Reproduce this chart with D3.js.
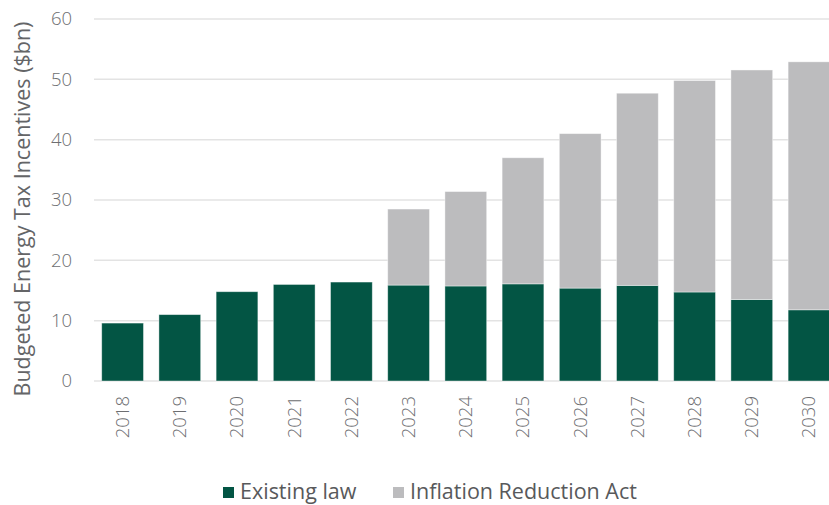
<!DOCTYPE html>
<html>
<head>
<meta charset="utf-8">
<script src="https://cdn.jsdelivr.net/npm/d3@7"></script>
<style>
  body { margin: 0; background: #fff; }
  text { font-family: "Open Sans", "Noto Sans", sans-serif; font-weight: 300; fill: #6d6e71; }
</style>
</head>
<body>
<div id="svgcontainer"></div>
<script>
let width = 829;
let height = 505;
let margins = { top: 19, right: 0, bottom: 124, left: 94 };

// chart data
let years = ["2018", "2019", "2020", "2021", "2022", "2023", "2024", "2025", "2026", "2027", "2028", "2029", "2030"];
let existingLaw = [9.6, 11.0, 14.8, 16.0, 16.4, 15.9, 15.75, 16.1, 15.4, 15.85, 14.75, 13.5, 11.8];
let inflationAct = [0, 0, 0, 0, 0, 12.6, 15.65, 20.9, 25.6, 31.85, 35.05, 38.05, 41.1];
let yTicks = [0, 10, 20, 30, 40, 50, 60];
let seriesNames = ["Existing law", "Inflation Reduction Act"];
let colors = ["#035544", "#bcbcbe"];

let rows = years.map((y, i) => ({ year: y, existing: existingLaw[i], ira: inflationAct[i] }));
let stack = d3.stack().keys(["existing", "ira"])(rows);

let svg = d3.select("#svgcontainer")
    .append("svg")
    .attr("width", width)
    .attr("height", height);

let plotH = 381 - margins.top;
let g = svg.append("g")
    .attr("transform", "translate(" + margins.left + "," + margins.top + ")");

let x = d3.scaleBand()
    .domain(years)
    .range([0, 743.6])
    .paddingInner(0.27)
    .paddingOuter(0.135);
let y = d3.scaleLinear()
    .domain([0, 60])
    .range([plotH, 0]);

// gridlines
g.append("g")
    .selectAll("line")
    .data(yTicks)
    .enter()
    .append("line")
    .attr("x1", 0)
    .attr("x2", width - margins.left)
    .attr("y1", d => y(d))
    .attr("y2", d => y(d))
    .style("stroke", "#e3e3e3")
    .style("stroke-width", 1.5);

// y axis labels
let yAxis = g.append("g")
    .attr("transform", "translate(-22,0)")
    .call(d3.axisLeft(y).tickValues(yTicks).tickSize(0).tickPadding(0));
yAxis.select(".domain").remove();
yAxis.selectAll("text")
    .style("font-size", "18.5px")
    .style("font-family", '"Open Sans", "Noto Sans", sans-serif')
    .style("fill", "#6d6e71");

// bars
g.selectAll("g.series")
    .data(stack)
    .enter()
    .append("g")
    .attr("class", "series")
    .style("fill", (d, i) => colors[i])
    .selectAll("rect")
    .data(d => d.filter(p => p[1] - p[0] > 0))
    .enter()
    .append("rect")
    .attr("x", d => x(d.data.year))
    .attr("y", d => y(d[1]))
    .attr("width", x.bandwidth())
    .attr("height", d => y(d[0]) - y(d[1]))
    .style("stroke", "#ffffff")
    .style("stroke-opacity", 0.5)
    .style("stroke-width", 0.8);

// x axis labels (rotated)
let xAxis = g.append("g")
    .attr("transform", "translate(0," + (plotH + 15) + ")")
    .call(d3.axisBottom(x).tickSize(0).tickPadding(0));
xAxis.select(".domain").remove();
xAxis.selectAll("text")
    .attr("transform", "rotate(-90)")
    .attr("text-anchor", "end")
    .attr("x", 0)
    .attr("y", 0)
    .attr("dy", "0.35em")
    .style("font-size", "18.5px")
    .style("font-family", '"Open Sans", "Noto Sans", sans-serif')
    .style("fill", "#6d6e71");

// y axis title
svg.append("text")
    .attr("transform", "translate(30,209) rotate(-90)")
    .attr("text-anchor", "middle")
    .style("font-size", "21.5px")
    .style("font-weight", 400)
    .style("fill", "#646567")
    .text("Budgeted Energy Tax Incentives ($bn)");

// legend
let legendX = [223, 393];
let legend = svg.append("g").attr("class", "legend");
let items = legend.selectAll("g")
    .data(seriesNames)
    .enter()
    .append("g")
    .attr("transform", (d, i) => "translate(" + legendX[i] + ",487)");
items.append("rect")
    .attr("width", 11)
    .attr("height", 11)
    .style("fill", (d, i) => colors[i]);
items.append("text")
    .attr("x", 17)
    .attr("y", 11.5)
    .style("font-size", "21.5px")
    .style("font-weight", 400)
    .style("fill", "#58595b")
    .text(d => d);
</script>
</body>
</html>
